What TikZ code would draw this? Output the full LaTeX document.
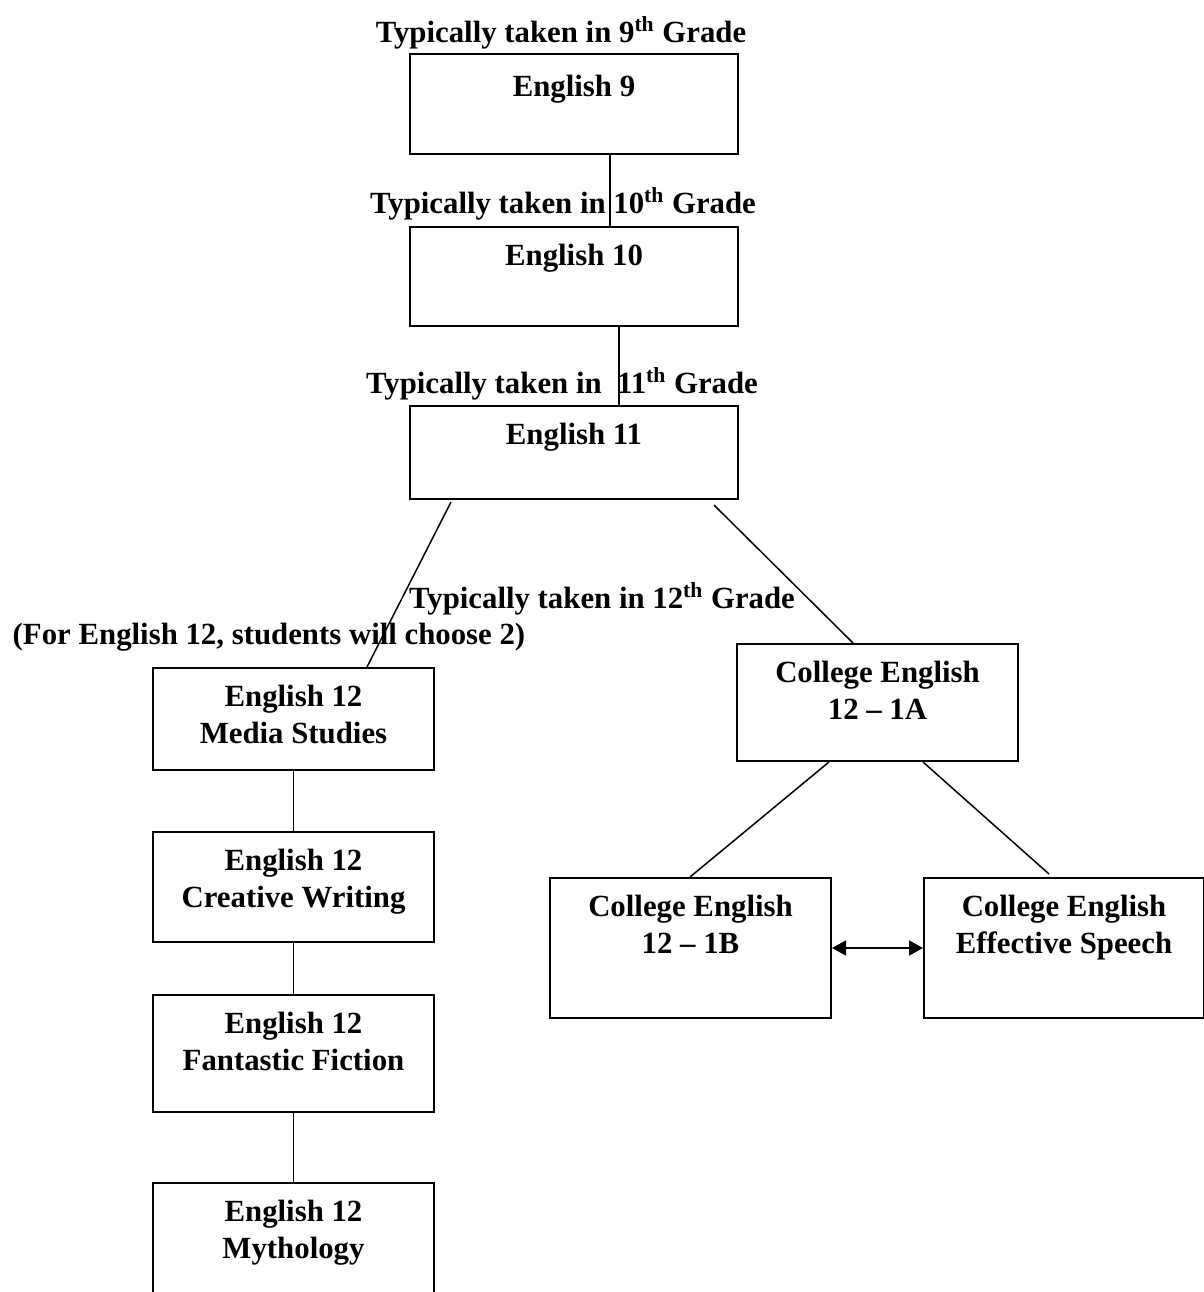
\documentclass[tikz,border=0pt]{standalone}
\usepackage{fontspec}
\setmainfont{Liberation Serif}
\usetikzlibrary{arrows.meta}

\tikzset{
	course/.style={draw, line width=1pt, anchor=north west, inner sep=0pt},
	coursetext/.style={anchor=north, inner sep=0pt, align=center, yshift=-9pt},
	grade/.style={anchor=base, inner sep=0pt},
	link/.style={line width=0.75pt},
}

\begin{document}
\begin{tikzpicture}[x=0.5pt, y=-0.5pt, font=\fontsize{15.4}{18.5}\selectfont\bfseries]
		\useasboundingbox (0,0) rectangle (1204,1292);
		\clip (0,0) rectangle (1204,1292);
		\node[grade] (g9) at (561,42) {Typically taken in 9\textsuperscript{th} Grade};
		\node[grade] (g10) at (563,213) {Typically taken in 10\textsuperscript{th} Grade};
		\node[grade] (g11) at (562,393) {Typically taken in\ \ 11\textsuperscript{th} Grade};
		\node[grade] (g12) at (602,608) {Typically taken in 12\textsuperscript{th} Grade};
		\node[grade] (choose) at (269,644) {(For English 12, students will choose 2)};
		\node[course, minimum width=164pt, minimum height=50pt, label={[coursetext, yshift=-2pt]north:English 9}] (e9) at (409,53) {};
		\node[course, minimum width=164pt, minimum height=49.5pt, label={[coursetext]north:English 10}] (e10) at (409,226) {};
		\node[course, minimum width=164pt, minimum height=46.5pt, label={[coursetext]north:English 11}] (e11) at (409,405) {};
		\node[course, minimum width=140.5pt, minimum height=51pt, label={[coursetext]north:{English 12\\Media Studies}}] (media) at (152,667) {};
		\node[course, minimum width=140.5pt, minimum height=55pt, label={[coursetext]north:{English 12\\Creative Writing}}] (creative) at (152,831) {};
		\node[course, minimum width=140.5pt, minimum height=58.5pt, label={[coursetext]north:{English 12\\Fantastic Fiction}}] (fiction) at (152,994) {};
		\node[course, minimum width=140.5pt, minimum height=70pt, label={[coursetext]north:{English 12\\Mythology}}] (myth) at (152,1182) {};
		\node[course, minimum width=140.5pt, minimum height=58.5pt, label={[coursetext]north:{College English\\12 -- 1A}}] (ce1a) at (736,643) {};
		\node[course, minimum width=140.5pt, minimum height=70pt, label={[coursetext]north:{College English\\12 -- 1B}}] (ce1b) at (549,877) {};
		\node[course, minimum width=140pt, minimum height=70pt, label={[coursetext]north:{College English\\Effective Speech}}] (speech) at (923,877) {};
		\draw[link] ([shift={(201,0)}]e9.south west) -- ([shift={(201,0)}]e10.north west);
		\draw[link] ([shift={(210,0)}]e10.south west) -- ([shift={(210,0)}]e11.north west);
		\draw[link] ([shift={(42,2)}]e11.south west) -- ([shift={(215,0)}]media.north west);
		\draw[link] ([shift={(-25,5)}]e11.south east) -- ([shift={(117,0)}]ce1a.north west);
		\draw[link] (media) -- (creative);
		\draw[link] (creative) -- (fiction);
		\draw[link] (fiction) -- (myth);
		\draw[link] ([shift={(93,0)}]ce1a.south west) -- ([shift={(141,0)}]ce1b.north west);
		\draw[link] ([shift={(187,0)}]ce1a.south west) -- ([shift={(126,-3)}]speech.north west);
		\draw[link, {Triangle[length=7pt,width=7.5pt]}-{Triangle[length=7pt,width=7.5pt]}] (ce1b.east) -- (speech.west);
	\end{tikzpicture}
\end{document}
